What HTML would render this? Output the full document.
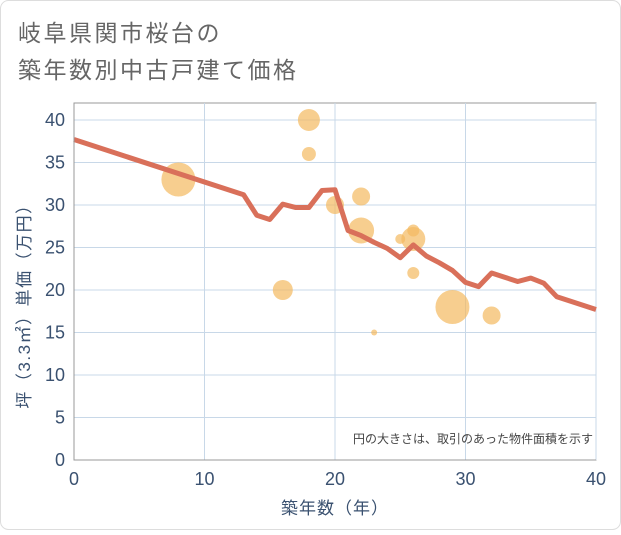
<!DOCTYPE html>
<html><head><meta charset="utf-8"><style>
body{margin:0;background:#fff;}
svg text{font-family:"Liberation Sans","Noto Sans CJK JP",sans-serif;}
</style></head><body>
<svg width="621" height="530" viewBox="0 0 621 530">
<rect x="0.5" y="0.5" width="620" height="529" rx="8" fill="#fff" stroke="#ddd"/>
<text x="18" y="41" font-size="23" letter-spacing="2.5" fill="#666">岐阜県関市桜台の</text>
<text x="18" y="78" font-size="23" letter-spacing="2.5" fill="#666">築年数別中古戸建て価格</text>
<g id="grid"></g>
<g id="bubbles"></g>
<g id="line"></g>
<g id="axes"></g>
<text x="593" y="443" font-size="12" fill="#444" text-anchor="end">円の大きさは、取引のあった物件面積を示す</text>
<text x="335" y="514" font-size="17" letter-spacing="1" fill="#3a5170" text-anchor="middle">築年数（年）</text>
<text transform="translate(30,302) rotate(-90)" font-size="17" letter-spacing="1.5" fill="#3a5170" text-anchor="middle">坪（3.3㎡）単価（万円）</text>
</svg>
<script>
const xTicks=[0,10,20,30,40];
const yTicks=[0,5,10,15,20,25,30,35,40];
const lineX=[0,13,14,15,16,17,18,19,20,21,22,23,24,25,26,27,28,29,30,31,32,33,34,35,36,37,38,40];
const lineY=[37.7,31.2,28.8,28.3,30.1,29.7,29.7,31.7,31.8,27,26.4,25.6,24.9,23.8,25.3,24,23.2,22.3,20.9,20.4,22,21.5,21,21.4,20.8,19.2,18.7,17.7];
const bubX=[8,18,18,16,20,22,22,25,26,26,26,23,29,32];
const bubY=[33,40,36,20,30,31,27,26,26,27,22,15,18,17];
const bubR=[17,11,7,10,9,9,13,5,12,6,6,3,17,9];
const NS="http://www.w3.org/2000/svg";
const X0=74,X1=596,Y0=460,Y1=120;
const sx=v=>X0+(v-0)/40*(X1-X0);
const sy=v=>Y0-(v-0)/40*(Y0-Y1);
function mk(t,a,p){const e=document.createElementNS(NS,t);for(const k in a)e.setAttribute(k,a[k]);p.appendChild(e);return e;}
const grid=document.getElementById('grid'),axes=document.getElementById('axes');
mk('rect',{x:X0,y:103,width:X1-X0,height:Y0-103,fill:'none',stroke:'#999'},grid);
xTicks.forEach(t=>{const l=mk('line',{x1:sx(t),x2:sx(t),y1:103,y2:Y0,stroke:'#c8d8e8'},grid);


const tx=mk('text',{x:sx(t),y:485,'font-size':18,fill:'#3a5170','text-anchor':'middle'},axes);tx.textContent=t;

});
yTicks.forEach(t=>{const l=mk('line',{x1:X0,x2:X1,y1:sy(t),y2:sy(t),stroke:'#c8d8e8'},grid);


const tx=mk('text',{x:65,y:sy(t)+6,'font-size':18,fill:'#3a5170','text-anchor':'end'},axes);tx.textContent=t;

});
mk('line',{x1:X0,x2:X0,y1:103,y2:Y0,stroke:'#999'},axes);
mk('line',{x1:X0,x2:X1,y1:Y0,y2:Y0,stroke:'#999'},axes);
const bg=document.getElementById('bubbles');
bubX.forEach((x,i)=>{const c=mk('circle',{cx:sx(x),cy:sy(bubY[i]),r:bubR[i],fill:'#f3b95f','fill-opacity':0.7},bg);

});
const pts=lineX.map((x,i)=>sx(x)+','+sy(lineY[i])).join(' ');
const pl=mk('polyline',{points:pts,fill:'none',stroke:'#d9705a','stroke-width':5,'stroke-linejoin':'round'},document.getElementById('line'));


</script>
</body></html>
